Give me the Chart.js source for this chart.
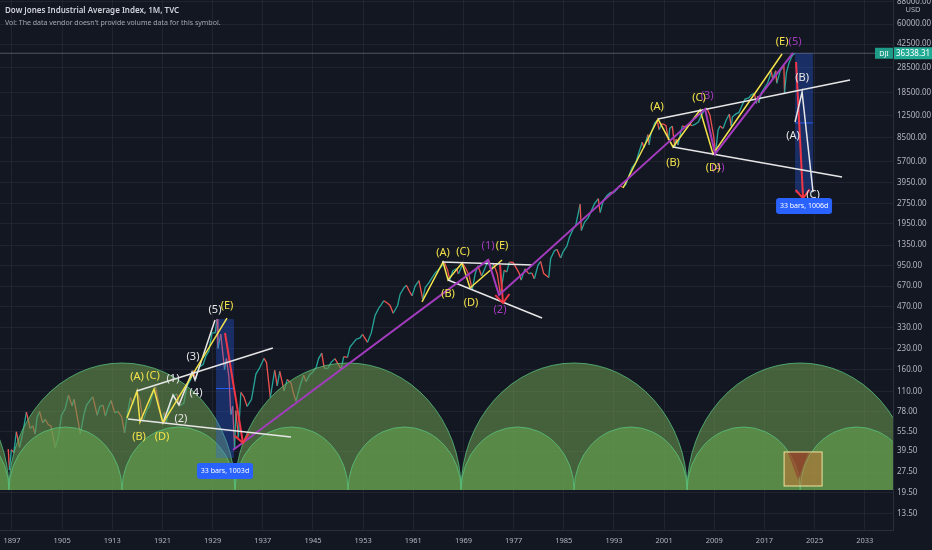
<!DOCTYPE html>
<html>
<head>
<meta charset="utf-8">
<script src="https://cdn.jsdelivr.net/npm/chart.js@4.4.1/dist/chart.umd.min.js"></script>
<style>
  html, body { margin: 0; padding: 0; background: #131722; }
  canvas { display: block; }
</style>
</head>
<body>
<canvas id="grafico" width="932" height="550"></canvas>
<script>
// eixos
const xMin = 1895.09, xMax = 2037.5;
const yMin = 10.2, yMax = 90600;
const xTickYears = [1897, 1905, 1913, 1921, 1929, 1937, 1945, 1953, 1961, 1969, 1977, 1985, 1993, 2001, 2009, 2017, 2025, 2033];
const yTickValues = [88000, 60000, 42500, 28500, 18500, 12500, 8500, 5700, 3950, 2750, 1950, 1350, 950, 670, 470, 330, 230, 160, 110, 78, 55.5, 39.5, 27.5, 19.5, 13.5];

// DJI mensal (aprox.)
const priceYear = [
  1896.4,1896.6,1896.9,1897.3,1897.7,1898.2,1898.7,1899.3,1899.9,1900.3,1900.7,1901.0,1901.4,1901.9,1902.3,1902.8,1903.2,1903.9,1904.4,1904.9,
  1905.5,1906.0,1906.6,1906.9,1907.3,1907.9,1908.5,1908.9,1909.5,1909.9,1910.6,1911.0,1911.5,1911.9,1912.3,1912.8,1913.4,1913.9,1914.5,1914.95,
  1915.5,1915.9,1916.3,1916.9,1917.4,1917.9,1918.5,1918.9,1919.5,1919.9,1920.4,1920.9,1921.3,1921.6,1922.3,1922.9,1923.3,1923.8,1924.4,1924.9,
  1925.5,1925.9,1926.3,1926.8,1927.5,1927.9,1928.4,1928.9,1929.4,1929.7,1929.85,1930.3,1930.9,1931.2,1931.6,1931.9,1932.2,1932.5,1932.7,1933.1,
  1933.5,1934.0,1934.5,1935.2,1935.9,1936.5,1937.2,1937.6,1938.2,1938.9,1939.3,1939.7,1940.4,1940.9,1941.5,1941.9,1942.3,1942.9,1943.5,1943.9,
  1944.5,1944.9,1945.5,1945.9,1946.4,1946.8,1947.4,1947.9,1948.5,1949.5,1949.9,1950.5,1950.9,1951.5,1951.9,1952.5,1952.9,1953.7,1954.3,1954.9,
  1955.5,1955.9,1956.3,1956.9,1957.3,1957.8,1958.5,1958.9,1959.5,1959.9,1960.4,1960.8,1961.3,1961.9,1962.5,1962.9,1963.5,1963.9,1964.5,1964.9,
  1966.0,1966.5,1966.8,1967.3,1967.9,1968.2,1968.9,1969.4,1969.9,1970.4,1970.9,1971.3,1971.9,1972.5,1973.0,1973.5,1973.8,1974.4,1974.9,1975.5,
  1975.9,1976.3,1976.9,1977.5,1977.9,1978.2,1978.8,1979.4,1979.9,1980.3,1980.9,1981.3,1981.8,1982.6,1982.9,1983.5,1983.9,1984.5,1984.9,1985.5,
  1985.9,1986.5,1986.9,1987.3,1987.6,1987.8,1988.3,1988.9,1989.5,1989.9,1990.5,1990.8,1991.3,1991.9,1992.5,1992.9,1993.5,1993.9,1994.4,1994.9,
  1995.5,1995.9,1996.5,1996.9,1997.5,1997.8,1998.4,1998.6,1998.9,1999.5,1999.9,2000.2,2000.6,2000.9,2001.3,2001.7,2001.9,2002.3,2002.7,2002.9,
  2003.2,2003.9,2004.5,2004.9,2005.5,2005.9,2006.5,2006.9,2007.4,2007.8,2008.3,2008.9,2009.2,2009.6,2009.9,2010.4,2010.9,2011.4,2011.7,2011.9,
  2012.5,2012.9,2013.5,2013.9,2014.5,2014.9,2015.4,2015.7,2015.9,2016.1,2016.5,2016.9,2017.5,2017.9,2018.1,2018.3,2018.8,2018.95,2019.5,2019.9,
  2020.1,2020.2,2020.5,2020.9,2021.3,2021.6,2021.9
];
const priceValue = [
  40.9,28.5,40.5,38.5,55,42,53,77,58,61,53,70,78,64,68,62,61,42,50,73,
  82,103,86,96,76,53,75,87,95,100,73,85,87,72,83,94,76,78,71,54,
  79,99,88,110,96,66,80,85,107,119,90,67,77,64,92,103,105,86,90,120,
  135,157,136,166,175,200,220,300,300,381,230,294,160,194,140,74,85,41,79,50,
  108,100,85,96,148,165,194,180,99,158,121,155,111,135,127,106,93,119,145,130,
  147,152,165,193,212,163,164,181,193,161,200,197,235,255,269,275,292,255,300,404,
  460,488,521,499,480,420,480,583,650,679,610,566,670,734,535,652,710,762,840,874,
  995,870,744,870,905,825,985,900,800,631,838,950,797,930,1051,880,980,820,577,880,
  852,1010,1004,900,831,742,900,830,838,759,960,1024,830,776,1070,1230,1258,1086,1211,1330,
  1546,1780,1895,2330,2722,1738,2000,2168,2500,2753,2999,2365,2900,3168,3350,3301,3540,3754,3650,3834,
  4600,5117,5600,6448,7900,7160,9000,7539,9181,10970,11497,9800,10800,10787,10500,8235,10021,10400,7286,8341,
  7524,10453,10200,10783,10500,10717,11200,12463,13600,14198,12600,8776,6547,9700,10428,10000,11577,12800,10400,12217,
  12900,13104,15100,16576,16900,17823,18300,15370,17425,15500,18400,19762,21800,24719,26616,23500,26951,21712,26800,28538,
  29500,18213,26000,30606,34000,35600,36338
];
const lastPrice = 36338.31;

// ciclos (arcos verdes)
const bigCycleCusps = [1860.46, 1896.52, 1932.57, 1968.62, 2004.67, 2040.72];
const smallCycleCusps = [1878.49, 1896.52, 1914.55, 1932.57, 1950.6, 1968.62, 1986.65, 2004.67, 2022.7, 2040.72];
const cycleBase = 20.3, bigCyclePeak = 179, smallCyclePeak = 59.7;

// desenhos (ano, preço)
const earlyUpper = [[1916.9, 110.7], [1938.6, 231.6]];
const earlyLower = [[1915.5, 68.5], [1941.5, 50.3]];
const earlyYellow = [[1915.34, 69.7], [1916.94, 110.7], [1917.41, 65.0], [1919.65, 114.5], [1921.08, 63.9], [1931.29, 387]];
const earlyWave = [[1921.08, 63.9], [1922.68, 103.3], [1923.63, 87.1], [1925.71, 153.4], [1926.19, 133.8], [1929.38, 374.5]];
const earlyRed = [[1930.97, 299.5], [1933.84, 45.4]];
const purpleWave = [[1932.25, 40.2], [1972.92, 1048], [1974.67, 575], [2007.53, 13956], [2009.12, 6460], [2021.56, 36540]];
const midUpper = [[1965.58, 1012], [1980.09, 961]];
const midLower = [[1966.54, 743], [1981.53, 387]];
const midYellow = [[1962.39, 510], [1965.74, 1012], [1966.54, 743], [1968.77, 995], [1970.05, 648], [1975.15, 1048]];
const midRed = [[1974.83, 961], [1975.31, 501]];
const lateUpper = [[2000.03, 11760], [2030.65, 22970]];
const lateLower = [[2002.42, 7280], [2029.38, 4350]];
const lateYellow = [[1994.45, 3600], [2000.03, 11760], [2002.42, 7280], [2006.73, 13720], [2008.8, 6460], [2019.81, 35890]];
const lateWhite = [[2021.88, 11170], [2023.0, 18670], [2024.75, 3360]];
const lateRed = [[2022.04, 31300], [2023.16, 3030]];

// medições de intervalo
const rangeStart = [1929.54, 2021.88];
const rangeEnd = [1932.41, 2024.75];
const rangeHigh = [380.6, 36540];
const rangeLow = [35.1, 3310];
const rangeText = ['33 bars, 1003d', '33 bars, 1006d'];

// caixa laranja
const boxYears = [2020.13, 2026.19];
const boxValues = [21.7, 38.9];
const boxTriangle = [[2020.76, 38.3], [2022.36, 24.0], [2023.95, 38.3]];

// rótulos das ondas
const WHITE = '#e6e6e6', YELLOW = '#f3e24b', PURPLE = '#a23bbd', RED = '#f23645';
const labelText  = ['(A)','(C)','(1)','(3)','(4)','(2)','(B)','(D)','(5)','(E)',
                    '(A)','(C)','(1)','(E)','(B)','(D)','(2)',
                    '(A)','(B)','(3)','(C)','(4)','(D)','(E)','(5)','(B)','(A)','(C)'];
const labelYear  = [1916.94,1919.49,1922.68,1925.87,1926.35,1923.95,1917.26,1920.92,1929.38,1931.29,
                    1965.74,1968.93,1972.92,1975.15,1966.54,1970.21,1974.83,
                    1999.87,2002.42,2007.85,2006.57,2009.6,2008.8,2019.81,2021.88,2023.0,2021.56,2024.75];
const labelValue = [140.7,143.2,136.1,198.3,107.0,68.5,50.3,50.3,444,476,
                    1181,1202,1332,1332,585,501,444,
                    14440,5530,17440,16860,5070,5070,44100,44100,23780,8790,3190];
const labelColor = [YELLOW,YELLOW,WHITE,WHITE,WHITE,WHITE,YELLOW,YELLOW,WHITE,YELLOW,
                    YELLOW,YELLOW,PURPLE,YELLOW,YELLOW,YELLOW,PURPLE,
                    YELLOW,YELLOW,PURPLE,YELLOW,PURPLE,YELLOW,YELLOW,PURPLE,WHITE,WHITE,WHITE];

const FONT = "'Noto Sans', sans-serif";
const UP = '#26a69a', DOWN = '#ef5350';

const lineSpecs = [
  [earlyLower, WHITE, 1.5, false],
  [earlyUpper, WHITE, 1.5, false],
  [earlyYellow, YELLOW, 1.5, false],
  [earlyWave, WHITE, 1.5, false],
  [purpleWave, PURPLE, 2, false],
  [earlyRed, RED, 2, true],
  [midUpper, WHITE, 1.5, false],
  [midLower, WHITE, 1.5, false],
  [midYellow, YELLOW, 1.5, false],
  [midRed, RED, 2, true],
  [lateUpper, WHITE, 1.5, false],
  [lateLower, WHITE, 1.5, false],
  [lateYellow, YELLOW, 1.5, false],
  [lateWhite, WHITE, 1.5, false],
  [lateRed, RED, 2, true]
];

const datasets = [{
  data: priceYear.map((x, i) => ({ x, y: priceValue[i] })),
  borderWidth: 1.3,
  pointRadius: 0,
  tension: 0,
  order: 10,
  segment: { borderColor: c => c.p1.parsed.y >= c.p0.parsed.y ? UP : DOWN }
}, {
  data: [{ x: xMin, y: lastPrice }, { x: xMax, y: lastPrice }],
  borderColor: 'rgba(130,134,146,0.55)',
  borderWidth: 1,
  pointRadius: 0,
  order: 5
}];
lineSpecs.forEach(([pts, color, w, arrow]) => {
  datasets.push({
    data: pts.map(p => ({ x: p[0], y: p[1] })),
    borderColor: color,
    borderWidth: w,
    pointRadius: 0,
    tension: 0,
    order: 0,
    arrow: arrow
  });
});

function desenharCiclos(chart, cusps, peak, fill) {
  const { ctx, scales: { x, y } } = chart;
  const base = y.getPixelForValue(cycleBase);
  const ry = base - y.getPixelForValue(peak);
  for (let i = 0; i < cusps.length - 1; i++) {
    const x0 = x.getPixelForValue(cusps[i]);
    const x1 = x.getPixelForValue(cusps[i + 1]);
    const cx = (x0 + x1) / 2, rx = (x1 - x0) / 2;
    ctx.beginPath();
    ctx.ellipse(cx, base, rx, ry, 0, Math.PI, 2 * Math.PI);
    ctx.closePath();
    ctx.fillStyle = fill;
    ctx.fill();
    ctx.beginPath();
    ctx.ellipse(cx, base, rx, ry, 0, Math.PI, 2 * Math.PI);
    ctx.strokeStyle = 'rgba(88,196,128,0.75)';
    ctx.lineWidth = 1;
    ctx.stroke();
  }
}

const overlay = {
  id: 'overlay',
  beforeDraw(chart) {
    const ctx = chart.ctx;
    ctx.save();
    ctx.fillStyle = '#131722';
    ctx.fillRect(0, 0, chart.width, chart.height);
    ctx.restore();
  },
  afterDatasetDraw(chart, args) {
    if (args.index !== 0) return;
    const { ctx, chartArea: a, scales: { x, y } } = chart;
    ctx.save();
    ctx.beginPath();
    ctx.rect(a.left, a.top, a.right - a.left, a.bottom - a.top);
    ctx.clip();
    desenharCiclos(chart, bigCycleCusps, bigCyclePeak, 'rgba(104,146,76,0.6)');
    desenharCiclos(chart, smallCycleCusps, smallCyclePeak, 'rgba(102,164,80,0.6)');

    // retângulos de medição
    rangeStart.forEach((s, i) => {
      const x0 = x.getPixelForValue(s), x1 = x.getPixelForValue(rangeEnd[i]);
      const y0 = y.getPixelForValue(rangeHigh[i]), y1 = y.getPixelForValue(rangeLow[i]);
      ctx.fillStyle = 'rgba(41,98,255,0.3)';
      ctx.fillRect(x0, y0, x1 - x0, y1 - y0);
      const ym = (y0 + y1) / 2;
      ctx.strokeStyle = 'rgba(41,98,255,0.9)';
      ctx.lineWidth = 1;
      ctx.beginPath();
      ctx.moveTo(x0, ym); ctx.lineTo(x1, ym);
      ctx.stroke();
    });

    // caixa laranja
    const bx0 = x.getPixelForValue(boxYears[0]), bx1 = x.getPixelForValue(boxYears[1]);
    const by0 = y.getPixelForValue(boxValues[1]), by1 = y.getPixelForValue(boxValues[0]);
    ctx.fillStyle = 'rgba(240,110,50,0.4)';
    ctx.fillRect(bx0, by0, bx1 - bx0, by1 - by0);
    ctx.fillStyle = 'rgba(140,45,35,0.5)';
    ctx.beginPath();
    boxTriangle.forEach((p, i) => {
      const px = x.getPixelForValue(p[0]), py = y.getPixelForValue(p[1]);
      if (i === 0) ctx.moveTo(px, py); else ctx.lineTo(px, py);
    });
    ctx.closePath();
    ctx.fill();
    ctx.strokeStyle = '#efe3a0';
    ctx.lineWidth = 1;
    ctx.strokeRect(bx0, by0, bx1 - bx0, by1 - by0);
    ctx.restore();
  },
  afterDatasetsDraw(chart) {
    const { ctx, scales: { x, y } } = chart;
    ctx.save();
    // pontas das setas
    chart.data.datasets.forEach((ds, i) => {
      if (!ds.arrow) return;
      const pts = chart.getDatasetMeta(i).data;
      const a = pts[pts.length - 2], b = pts[pts.length - 1];
      const ang = Math.atan2(b.y - a.y, b.x - a.x);
      const L = 11;
      ctx.strokeStyle = ds.borderColor;
      ctx.lineWidth = 2;
      ctx.beginPath();
      ctx.moveTo(b.x - L * Math.cos(ang - 0.7), b.y - L * Math.sin(ang - 0.7));
      ctx.lineTo(b.x, b.y);
      ctx.lineTo(b.x - L * Math.cos(ang + 0.7), b.y - L * Math.sin(ang + 0.7));
      ctx.stroke();
    });

    // rótulos das ondas
    ctx.font = '11px ' + FONT;
    ctx.textAlign = 'center';
    ctx.textBaseline = 'middle';
    labelText.forEach((t, i) => {
      ctx.fillStyle = labelColor[i];
      ctx.fillText(t, x.getPixelForValue(labelYear[i]), y.getPixelForValue(labelValue[i]));
    });

    // etiquetas das medições
    ctx.font = '7px ' + FONT;
    rangeText.forEach((t, i) => {
      const cx = (x.getPixelForValue(rangeStart[i]) + x.getPixelForValue(rangeEnd[i])) / 2;
      const top = y.getPixelForValue(rangeLow[i]) + 5;
      const w = 56, h = 16;
      ctx.fillStyle = '#2962ff';
      ctx.beginPath();
      ctx.roundRect(cx - w / 2, top, w, h, 3);
      ctx.fill();
      ctx.fillStyle = '#ffffff';
      ctx.fillText(t, cx, top + h / 2 + 0.5);
    });
    ctx.restore();
  },
  afterDraw(chart) {
    const { ctx, chartArea: a, scales: { y } } = chart;
    ctx.save();
    ctx.textBaseline = 'middle';
    ctx.textAlign = 'left';
    ctx.fillStyle = '#d1d4dc';
    ctx.font = '600 8px ' + FONT;
    ctx.fillText('Dow Jones Industrial Average Index, 1M, TVC', 5, 11);
    ctx.fillStyle = '#a3a6af';
    ctx.font = '7px ' + FONT;
    ctx.fillText("Vol: The data vendor doesn't provide volume data for this symbol.", 5, 23);

    // USD
    ctx.textAlign = 'center';
    ctx.font = '7.5px ' + FONT;
    ctx.fillStyle = '#b2b5be';
    ctx.fillText('USD', a.right + 20, 10);

    // etiqueta do último preço
    const py = y.getPixelForValue(lastPrice);
    ctx.fillStyle = '#22ab94';
    ctx.fillRect(a.right + 1, py - 6, 39, 12);
    ctx.fillStyle = '#1f9c87';
    ctx.fillRect(a.right - 18, py - 5.5, 18, 11);
    ctx.fillStyle = '#ffffff';
    ctx.font = '8px ' + FONT;
    ctx.textAlign = 'left';
    ctx.fillText('36338.31', a.right + 3, py + 0.5);
    ctx.textAlign = 'center';
    ctx.font = '7px ' + FONT;
    ctx.fillText('DJI', a.right - 9, py + 0.5);
    ctx.restore();
  }
};

new Chart(document.getElementById('grafico').getContext('2d'), {
  type: 'line',
  data: { datasets },
  plugins: [overlay],
  options: {
    responsive: false,
    animation: false,
    events: [],
    layout: { padding: 0 },
    plugins: { legend: { display: false }, tooltip: { enabled: false }, title: { display: false } },
    scales: {
      x: {
        type: 'linear',
        min: xMin,
        max: xMax,
        afterBuildTicks: s => { s.ticks = xTickYears.map(v => ({ value: v })); },
        afterFit: s => { s.height = 20; s.paddingLeft = 0; s.paddingRight = 0; },
        ticks: { color: '#b2b5be', font: { size: 7.5, family: FONT }, maxRotation: 0, autoSkip: false, padding: 6, callback: v => String(v) },
        grid: { color: 'rgba(54,58,69,0.4)', drawTicks: false },
        border: { color: '#2a2e39' }
      },
      y: {
        type: 'logarithmic',
        position: 'right',
        min: yMin,
        max: yMax,
        afterBuildTicks: s => { s.ticks = yTickValues.map(v => ({ value: v })); },
        afterFit: s => { s.width = 39; s.paddingTop = 0; s.paddingBottom = 0; },
        ticks: { color: '#b2b5be', font: { size: 8, family: FONT }, autoSkip: false, padding: 4, callback: v => Number(v).toFixed(2) },
        grid: { color: 'rgba(54,58,69,0.4)', drawTicks: false },
        border: { color: '#2a2e39' }
      }
    }
  }
});
</script>
</body>
</html>
